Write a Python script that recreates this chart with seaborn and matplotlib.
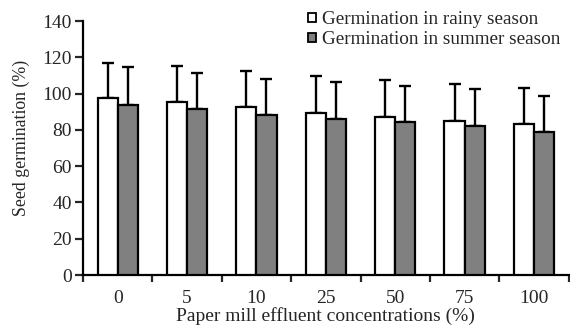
import numpy as np
import pandas as pd
import matplotlib
matplotlib.use("Agg")
import matplotlib.pyplot as plt
import seaborn as sns
from matplotlib.patches import Patch

concentrations = ["0", "5", "10", "25", "50", "75", "100"]
rainy_mean = [97.5, 95.5, 92.5, 89.5, 87.0, 85.0, 83.5]
rainy_err = [19.5, 19.5, 20.0, 20.0, 20.5, 20.3, 19.5]
summer_mean = [94.0, 91.5, 88.0, 86.2, 84.2, 82.1, 79.0]
summer_err = [20.5, 20.0, 20.0, 20.0, 20.2, 20.3, 19.7]
series = ["Germination in rainy season", "Germination in summer season"]

sns.set_theme(style="ticks")
plt.rcParams["font.family"] = ["Liberation Serif", "DejaVu Serif"]

df = pd.DataFrame({
    "conc": concentrations * 2,
    "value": rainy_mean + summer_mean,
    "err": rainy_err + summer_err,
    "season": [series[0]] * 7 + [series[1]] * 7,
})

fig = plt.figure(figsize=(5.7, 3.29), dpi=100)
ax = fig.add_axes([0.1456, 0.164, 0.852, 0.772])

colors = {series[0]: "white", series[1]: "#808080"}
sns.barplot(data=df, x="conc", y="value", hue="season", order=concentrations,
            hue_order=series, palette=colors, width=0.58, errorbar=None,
            edgecolor="black", linewidth=1.6, ax=ax, legend=False, zorder=3)

# error bars (upper only) using bar positions
for i, s in enumerate(series):
    cont = ax.containers[i]
    sub = df[df.season == s].set_index("conc").loc[concentrations]
    xs = [p.get_x() + p.get_width() / 2 for p in cont.patches]
    ys = sub["value"].values
    errs = sub["err"].values
    ax.errorbar(xs, ys, yerr=[np.zeros_like(errs), errs], fmt="none",
                ecolor="black", elinewidth=1.7, capsize=4.3, capthick=1.7, zorder=2)

ax.set_ylim(0, 140)
ax.set_xlim(-0.5, 6.5)
ax.set_yticks(np.arange(0, 141, 20))
ax.set_xticks(np.arange(-0.5, 7, 1))
ax.set_xticklabels([])
ax.set_xticks(np.arange(7), labels=concentrations, minor=True)
ax.tick_params(axis="x", which="minor", length=0, labelsize=14, pad=11)
ax.tick_params(axis="x", which="major", length=5, width=1.6, direction="out")
ax.tick_params(axis="y", length=6, width=1.6, labelsize=14, pad=2)
for side in ["left", "bottom"]:
    ax.spines[side].set_linewidth(1.6)
    ax.spines[side].set_color("black")
ax.spines["right"].set_visible(False)
ax.spines["top"].set_visible(False)

ax.set_xlabel("Paper mill effluent concentrations (%)", fontsize=14, labelpad=0)
ax.set_ylabel("Seed germination (%)", fontsize=12.8)
ax.yaxis.set_label_coords(-0.11, 0.54)

handles = [Patch(facecolor=colors[s], edgecolor="black", linewidth=1.3) for s in series]
fig.legend(handles, series, loc="upper left", bbox_to_anchor=(0.52, 1.0),
           frameon=False, fontsize=13.8, handlelength=0.4, handleheight=0.4,
           handletextpad=0.35, labelspacing=0.15, borderaxespad=0.2)

fig.savefig("out.png", dpi=100)
